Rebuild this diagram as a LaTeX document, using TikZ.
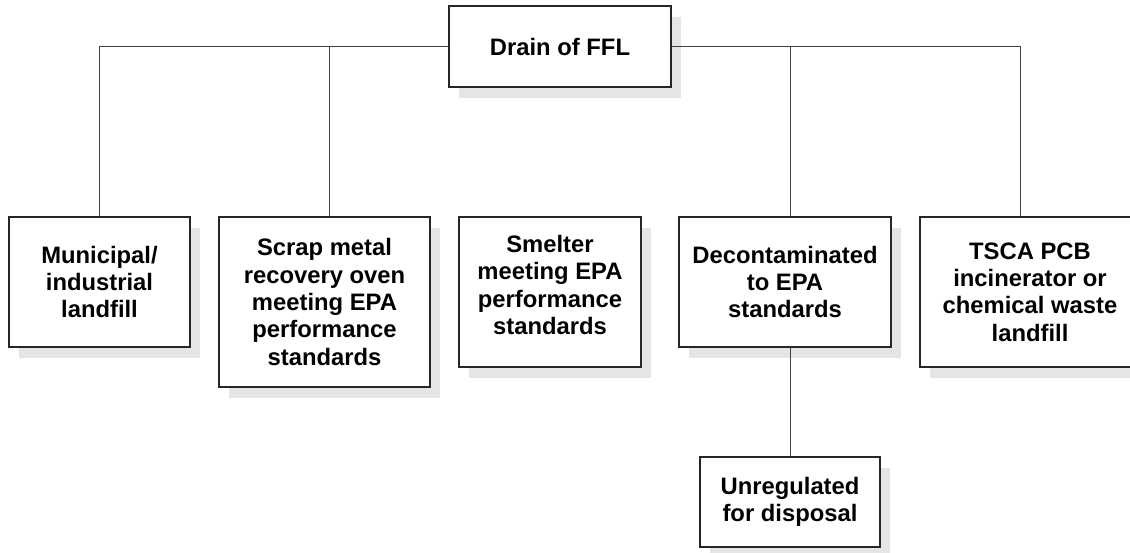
\documentclass[tikz,border=0pt]{standalone}
\usepackage{fontspec}
\setmainfont{Liberation Sans}
\usetikzlibrary{shadows}

\begin{document}
\begin{tikzpicture}[x=1pt, y=-1pt,
  box/.style={draw=black!85, line width=1.2pt, fill=white, align=center, inner sep=0pt,
    font=\bfseries\fontsize{23.8}{27.4}\selectfont,
    drop shadow={shadow xshift=10pt, shadow yshift=-11pt, fill=black!10, opacity=1}},
  link/.style={draw=black!75, line width=1pt}]

  % Page frame
  \clip (0,0) rectangle (1130,552);
  \useasboundingbox (0,0) rectangle (1130,552);

  % Root
  \node[box, minimum width=222pt, minimum height=81pt] (drain) at (560,46.5) {Drain of FFL};

  % Disposal options
  \node[box, minimum width=181pt, minimum height=130pt] (muni) at (99.5,282)
    {Municipal/\\industrial\\landfill};
  \node[box, minimum width=211pt, minimum height=170pt] (scrap) at (324.5,302)
    {Scrap metal\\recovery oven\\meeting EPA\\performance\\standards};
  \node[box, minimum width=182pt, minimum height=150pt, text depth=14pt] (smelter) at (550,292)
    {Smelter\\meeting EPA\\performance\\standards};
  \node[box, minimum width=212pt, minimum height=130pt] (decon) at (785,282)
    {Decontaminated\\to EPA\\standards};
  \node[box, minimum width=220pt, minimum height=150pt] (tsca) at (1030,292)
    {TSCA PCB\\incinerator or\\chemical waste\\landfill};

  % After decontamination
  \node[box, minimum width=180pt, minimum height=90pt] (unreg) at (790,502)
    {Unregulated\\for disposal};

  % Connectors
  \draw[link] (drain.west) -| (muni.north);
  \draw[link] (drain.west) -| ([xshift=4.5pt]scrap.north);
  \draw[link] (drain.east) -| (decon.north -| unreg.north);
  \draw[link] (drain.east) -| ([xshift=-10pt]tsca.north);
  \draw[link] (decon.south -| unreg.north) -- (unreg.north);
\end{tikzpicture}
\end{document}
